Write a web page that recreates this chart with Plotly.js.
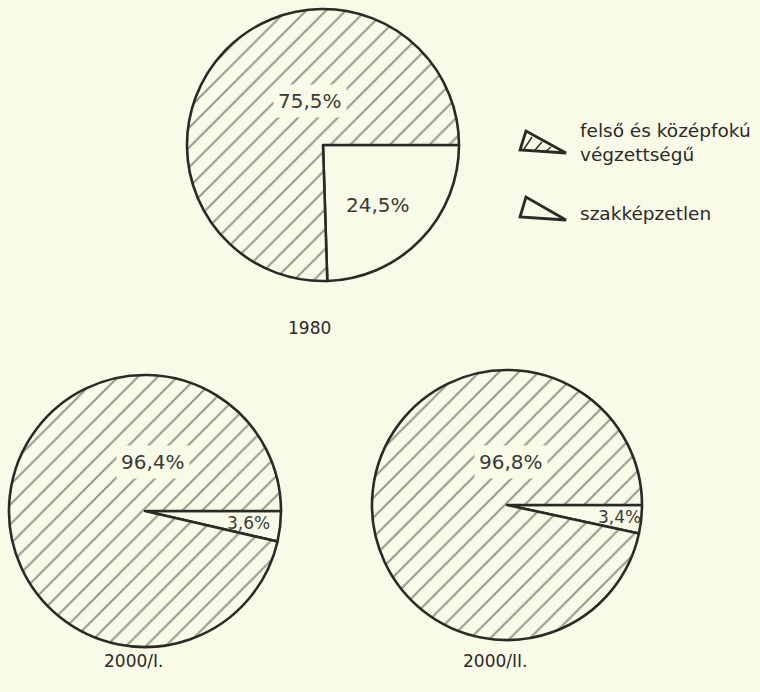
<!DOCTYPE html>
<html>
<head>
<meta charset="utf-8">
<script src="https://cdn.plot.ly/plotly-3.0.1.min.js"></script>
<style>html,body{margin:0;padding:0;background:#fafae8;}</style>
</head>
<body>
<div id="chart" style="width:760px;height:692px;"></div>
<script>
// ---- data ----
const categories = ["szakképzetlen", "felső és középfokú végzettségű"];
const years = ["1980", "2000/I.", "2000/II."];
const values1980 = [24.5, 75.5];
const values2000I = [3.6, 96.4];
const values2000II = [3.4, 96.8];
const labels1980 = ["24,5%", "75,5%"];
const labels2000I = ["3,6%", "96,4%"];
const labels2000II = ["3,4%", "96,8%"];
const legendLines = ["felső és középfokú<br>végzettségű", "szakképzetlen"];

// ---- style ----
const BG = "#fafae8";
const INK = "#2a2a26";
const HATCH = "#33332e";
const FONT = "DejaVu Sans";
const W = 760, H = 692;

function px2x(p){ return p / W; }
function py2y(p){ return 1 - p / H; }

function pie(values, names, cx, cy, r) {
  return {
    type: "pie",
    values: values,
    labels: names,
    sort: false,
    direction: "clockwise",
    rotation: 90,
    textinfo: "none",
    hoverinfo: "label+value",
    showlegend: false,
    domain: { x: [px2x(cx - r), px2x(cx + r)], y: [py2y(cy + r), py2y(cy - r)] },
    marker: {
      colors: [BG, BG],
      line: { color: INK, width: 2.6 },
      pattern: { shape: ["", "/"], fgcolor: HATCH, bgcolor: BG, size: 14, solidity: 0.14, fillmode: "overlay" }
    }
  };
}

const data = [
  pie(values1980, categories, 323, 145, 136),
  pie(values2000I, categories, 145, 511, 136),
  pie(values2000II, categories, 507, 505, 135)
];

function lab(text, x, y, size, bg) {
  return {
    xref: "paper", yref: "paper", x: px2x(x), y: py2y(y),
    xanchor: "center", yanchor: "middle", showarrow: false,
    text: text, font: { family: FONT, size: size, color: "#3a3a36" },
    bgcolor: bg ? BG : "rgba(0,0,0,0)", borderpad: 4
  };
}
function txt(text, x, y, size, anchor) {
  return {
    xref: "paper", yref: "paper", x: px2x(x), y: py2y(y),
    xanchor: anchor || "left", yanchor: "middle", showarrow: false, align: "left",
    text: text, font: { family: FONT, size: size, color: INK }
  };
}

const annotations = [
  lab(labels1980[1], 310, 101, 20, true),
  lab(labels1980[0], 378, 205, 20, false),
  lab(labels2000I[1], 153, 462, 20, true),
  lab(labels2000I[0], 248, 523, 17, false),
  lab(labels2000II[1], 511, 462, 20, true),
  lab(labels2000II[0], 619, 517, 17, false),
  txt(years[0], 309, 328, 17, "center"),
  txt(years[1], 133, 661, 17, "center"),
  txt(years[2], 495, 661, 17, "center"),
  { xref: "paper", yref: "paper", x: px2x(578), y: py2y(143), xanchor: "left", yanchor: "middle",
    showarrow: false, align: "left", text: legendLines[0],
    font: { family: FONT, size: 18.5, color: INK } },
  txt(legendLines[1], 578, 213, 18.5, "left")
];

function P(x, y){ return px2x(x) + "," + py2y(y); }
const shapes = [
  // legend key: hatched wedge
  { type: "path", xref: "paper", yref: "paper",
    path: "M" + P(526,131) + " L" + P(520,150) + " L" + P(566,153) + " Z",
    line: { color: INK, width: 2.8 }, fillcolor: BG },
  { type: "path", xref: "paper", yref: "paper",
    path: "M" + P(524,149) + " L" + P(532,137) + " M" + P(535,150) + " L" + P(542,142) +
          " M" + P(546,151) + " L" + P(551,147),
    line: { color: INK, width: 1.4 } },
  // legend key: plain wedge
  { type: "path", xref: "paper", yref: "paper",
    path: "M" + P(526,197) + " L" + P(520,217) + " L" + P(566,220) + " Z",
    line: { color: INK, width: 2.8 }, fillcolor: BG }
];

const layout = {
  width: W, height: H,
  margin: { l: 0, r: 0, t: 0, b: 0 },
  paper_bgcolor: BG, plot_bgcolor: BG,
  showlegend: false,
  font: { family: FONT, color: INK },
  annotations: annotations,
  shapes: shapes
};

Plotly.newPlot("chart", data, layout, { displayModeBar: false, staticPlot: true });
</script>
</body>
</html>
